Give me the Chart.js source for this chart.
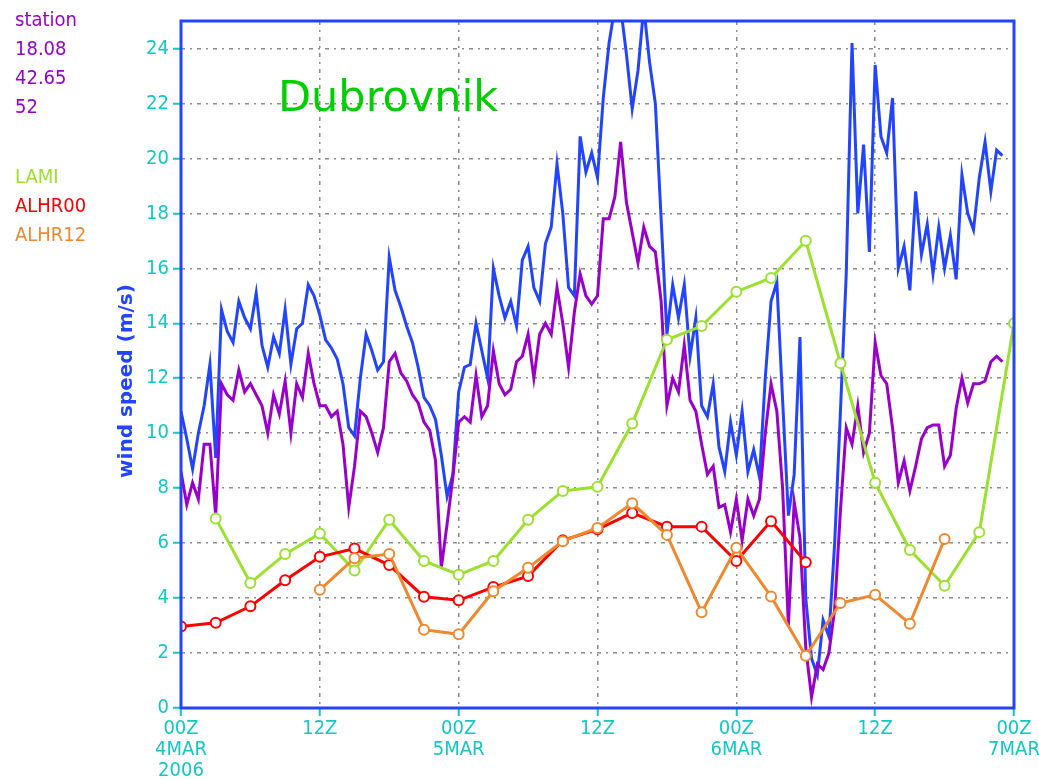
<!DOCTYPE html>
<html>
<head>
<meta charset="utf-8">
<script src="https://cdn.jsdelivr.net/npm/chart.js@4.4.1/dist/chart.umd.min.js"></script>
<style>
  html, body { margin: 0; padding: 0; background: #fff; }
</style>
</head>
<body>
<canvas id="chart" width="1039" height="780"></canvas>
<script>
// x = hours since 00Z 4 MAR 2006
const xTicks = [0, 12, 24, 36, 48, 60, 72];
const xTickLabels = [["00Z", "4MAR", "2006"], "12Z", ["00Z", "5MAR"], "12Z", ["00Z", "6MAR"], "12Z", ["00Z", "7MAR"]];
const yTicks = [0, 2, 4, 6, 8, 10, 12, 14, 16, 18, 20, 22, 24];

// station observations, every half hour from 00Z 4MAR
const stationStep = 0.5;
const stationGust = [
  10.8, 9.8, 8.7, 10.0, 11.0, 12.5, 9.1, 14.5, 13.7, 13.3, 14.8, 14.2,
  13.8, 15.1, 13.2, 12.4, 13.5, 12.9, 14.5, 12.5, 13.8, 14.0, 15.4, 15.0,
  14.3, 13.4, 13.1, 12.7, 11.8, 10.2, 9.9, 12.0, 13.6, 13.0, 12.3, 12.6,
  16.4, 15.2, 14.6, 13.9, 13.3, 12.4, 11.3, 11.0, 10.5, 9.2, 7.7, 8.5,
  11.5, 12.4, 12.5, 14.0, 13.0, 12.0, 16.0, 15.0, 14.2, 14.8, 13.9, 16.3,
  16.8, 15.3, 14.8, 16.9, 17.5, 19.8, 18.0, 15.3, 15.0, 20.8, 19.5, 20.2,
  19.3, 22.2, 24.2, 25.5, 25.5, 23.8, 21.8, 23.2, 25.5, 23.5, 22.0, 17.8,
  13.6, 15.4, 14.2, 15.4, 12.8, 14.2, 11.0, 10.6, 11.8, 9.5, 8.6, 10.4,
  9.2, 10.8, 8.6, 9.4, 8.4, 12.0, 14.8, 15.5, 11.2, 7.0, 8.5, 13.5,
  4.0, 1.8, 1.2, 3.2, 2.6, 6.0, 10.8, 15.8, 24.2, 18.0, 20.5, 16.6,
  23.4, 20.8, 20.2, 22.2, 16.0, 16.8, 15.2, 18.8, 16.5, 17.6, 15.8, 17.5,
  16.0, 17.2, 15.6, 19.4, 18.0, 17.4, 19.3, 20.6, 18.8, 20.3, 20.1
];
const stationMean = [
  8.6, 7.4, 8.2, 7.6, 9.6, 9.6, 7.0, 11.8, 11.4, 11.2, 12.3, 11.5,
  11.8, 11.4, 11.0, 10.0, 11.4, 10.7, 11.9, 10.0, 11.8, 11.3, 12.9, 11.8,
  11.0, 11.0, 10.6, 10.8, 9.6, 7.3, 8.8, 10.8, 10.6, 10.0, 9.3, 10.2,
  12.6, 12.9, 12.2, 11.9, 11.4, 11.1, 10.4, 10.1, 9.0, 5.1, 6.7, 8.4,
  10.4, 10.6, 10.4, 12.1, 10.6, 11.0, 13.0, 11.8, 11.4, 11.6, 12.6, 12.8,
  13.6, 12.0, 13.6, 14.0, 13.6, 15.3, 14.0, 12.4, 14.4, 15.8, 15.0, 14.7,
  15.0, 17.8, 17.8, 18.6, 20.6, 18.4, 17.3, 16.2, 17.5, 16.8, 16.6, 14.8,
  11.0, 12.0, 11.5, 13.2, 11.2, 10.8, 9.6, 8.5, 8.8, 7.3, 7.4, 6.4,
  7.6, 6.1, 7.6, 7.0, 7.6, 10.0, 11.8, 10.8, 8.0, 3.0, 7.5, 6.2,
  2.2, 0.4, 1.6, 1.4, 2.0, 3.6, 7.2, 10.2, 9.6, 11.0, 9.3, 10.0,
  13.3, 12.1, 11.8, 10.2, 8.2, 9.0, 7.9, 8.8, 9.8, 10.2, 10.3, 10.3,
  8.8, 9.2, 10.9, 12.0, 11.1, 11.8, 11.8, 11.9, 12.6, 12.8, 12.6
];

// model forecasts, 3-hourly
const modelStep = 3;
const lamiStart = 3;
const lami = [6.9, 4.55, 5.6, 6.35, 5.0, 6.85, 5.35, 4.85, 5.35, 6.85, 7.9, 8.05,
  10.35, 13.4, 13.9, 15.15, 15.65, 17.0, 12.55, 8.2, 5.75, 4.45, 6.4, 14.0];
const alhr00Start = 0;
const alhr00 = [2.97, 3.1, 3.7, 4.65, 5.5, 5.8, 5.2, 4.05, 3.92, 4.4, 4.8, 6.1,
  6.5, 7.1, 6.6, 6.6, 5.35, 6.8, 5.3];
const alhr12Start = 12;
const alhr12 = [4.3, 5.45, 5.6, 2.85, 2.68, 4.25, 5.1, 6.07, 6.55, 7.45, 6.3, 3.48,
  5.83, 4.06, 1.9, 3.82, 4.12, 3.07, 6.15];

const stationInfo = ["station", "18.08", "42.65", "52"];
const modelNames = ["LAMI", "ALHR00", "ALHR12"];

const BLUE = "#2244ff";
const PURPLE = "#9900cc";
const LIME = "#9be22e";
const RED = "#ff0000";
const ORANGE = "#f0882e";
const CYAN = "#10c8c8";
const pixFont = "'DejaVu Sans Condensed', 'DejaVu Sans', sans-serif";

function series(values, start, step) {
  return values.map((v, i) => ({ x: start + i * step, y: v }));
}

const decorations = {
  id: "decorations",
  afterDraw(chart) {
    const ctx = chart.ctx;
    const a = chart.chartArea;
    ctx.save();
    ctx.strokeStyle = BLUE;
    ctx.lineWidth = 3;
    ctx.strokeRect(a.left, a.top, a.right - a.left, a.bottom - a.top);

    ctx.textAlign = "left";
    ctx.textBaseline = "alphabetic";
    ctx.font = "20px " + pixFont;
    ctx.fillStyle = PURPLE;
    const infoY = [26, 55, 84, 113];
    stationInfo.forEach((t, i) => ctx.fillText(t, 15, infoY[i]));
    const modelColors = [LIME, RED, ORANGE];
    const modelY = [183, 212, 241];
    modelNames.forEach((t, i) => {
      ctx.fillStyle = modelColors[i];
      ctx.fillText(t, 15, modelY[i]);
    });

    ctx.font = "43px 'DejaVu Sans', sans-serif";
    ctx.fillStyle = "#00d000";
    ctx.fillText("Dubrovnik", 278, 111);

    ctx.translate(132, 381);
    ctx.rotate(-Math.PI / 2);
    ctx.textAlign = "center";
    ctx.font = "bold 20px 'DejaVu Sans', sans-serif";
    ctx.fillStyle = BLUE;
    ctx.fillText("wind speed (m/s)", 0, 0);
    ctx.restore();
  }
};

const gridCommon = {
  color: "#8c8c8c",
  lineWidth: 1.5,
  tickColor: CYAN,
  tickLength: 8,
  tickWidth: 2,
  tickBorderDash: []
};

const obsLine = { borderWidth: 3, pointRadius: 0 };
const modelLine = { borderWidth: 3, pointRadius: 5, pointBorderWidth: 2, pointBackgroundColor: "#ffffff" };

new Chart(document.getElementById("chart"), {
  type: "line",
  data: {
    datasets: [
      { label: "station gust", data: series(stationGust, 0, stationStep), borderColor: BLUE, order: 5, ...obsLine },
      { label: "station", data: series(stationMean, 0, stationStep), borderColor: PURPLE, order: 4, ...obsLine },
      { label: "LAMI", data: series(lami, lamiStart, modelStep), borderColor: LIME, order: 3, ...modelLine },
      { label: "ALHR00", data: series(alhr00, alhr00Start, modelStep), borderColor: RED, order: 2, ...modelLine },
      { label: "ALHR12", data: series(alhr12, alhr12Start, modelStep), borderColor: ORANGE, order: 1, ...modelLine }
    ]
  },
  options: {
    responsive: false,
    animation: false,
    devicePixelRatio: 1,
    layout: { padding: { top: 21, right: 25, left: 0, bottom: 0 } },
    plugins: { legend: { display: false }, tooltip: { enabled: false } },
    elements: { line: { tension: 0 } },
    scales: {
      x: {
        type: "linear",
        min: 0,
        max: 72,
        afterBuildTicks: (s) => { s.ticks = xTicks.map(v => ({ value: v })); },
        afterFit: (s) => { s.height = 72; s.paddingLeft = 0; s.paddingRight = 0; },
        grid: gridCommon,
        border: { display: false, dash: [4, 5, 2, 5] },
        ticks: {
          color: CYAN,
          padding: 2,
          maxRotation: 0,
          autoSkip: false,
          font: { family: pixFont, size: 20, lineHeight: 1.05 },
          callback: (v) => xTickLabels[xTicks.indexOf(v)]
        }
      },
      y: {
        min: 0,
        max: 25,
        afterBuildTicks: (s) => { s.ticks = yTicks.map(v => ({ value: v })); },
        afterFit: (s) => { s.width = 181; s.paddingTop = 0; s.paddingBottom = 0; },
        grid: gridCommon,
        border: { display: false, dash: [4, 5, 2, 5] },
        ticks: {
          color: CYAN,
          padding: 4,
          font: { family: pixFont, size: 20 }
        }
      }
    }
  },
  plugins: [decorations]
});
</script>
</body>
</html>
